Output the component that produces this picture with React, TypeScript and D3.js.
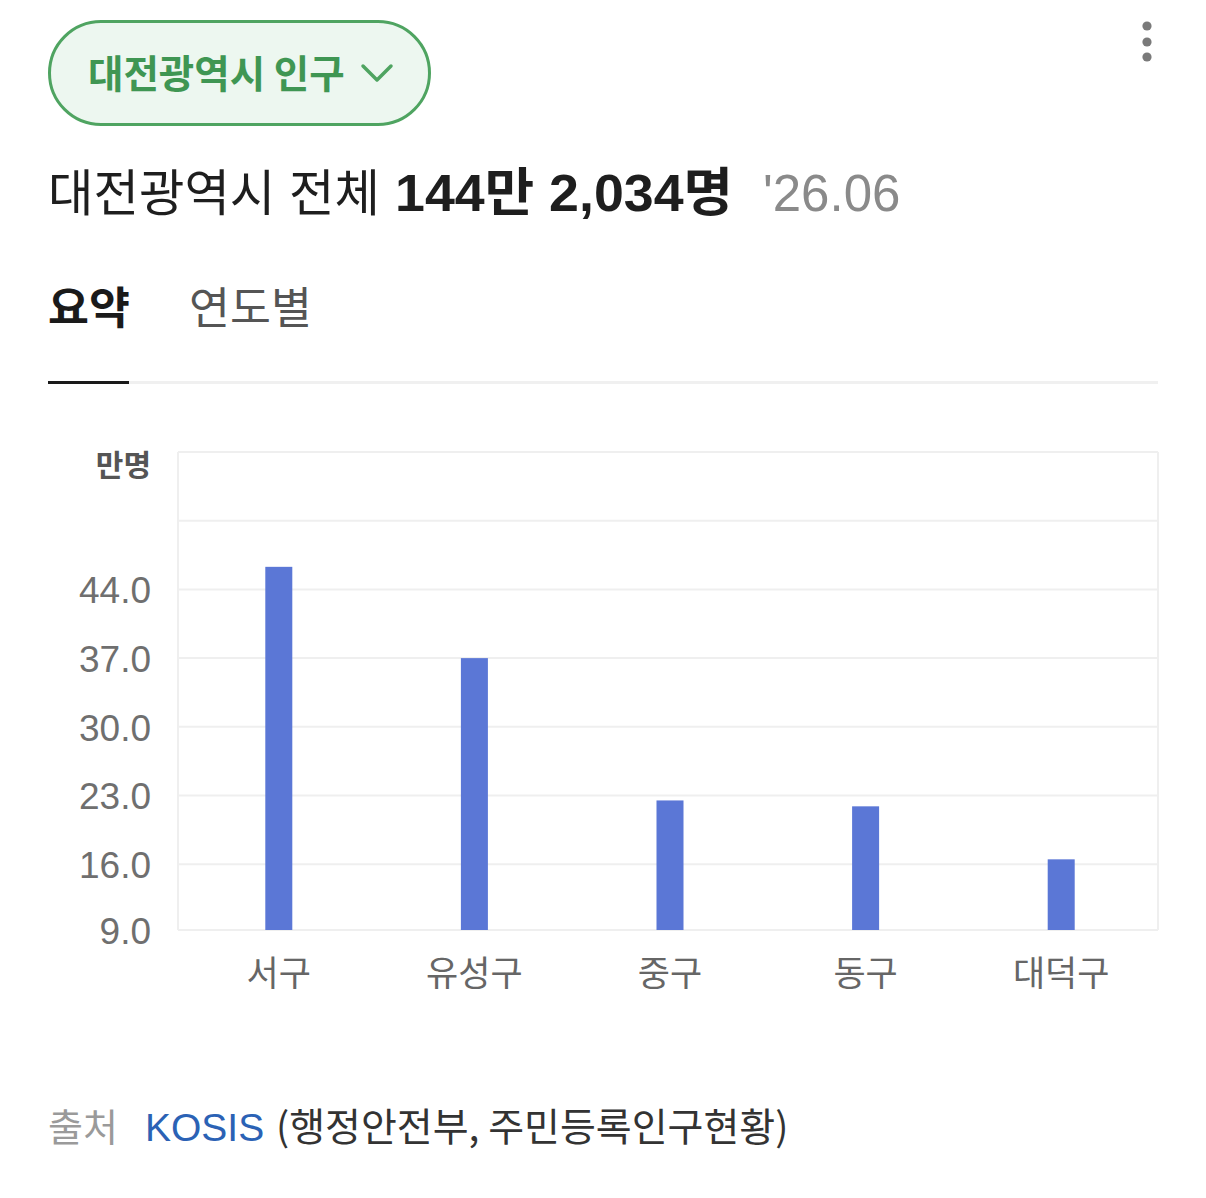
import React from "react";
import * as d3 from "d3";

const categories = ["서구", "유성구", "중구", "동구", "대덕구"];
const values = [46.3, 37.0, 22.5, 21.9, 16.5];
const yTickValues = [9.3, 16, 23, 30, 37, 44, 51, 58];
const yTickLabels = ["9.0", "16.0", "23.0", "30.0", "37.0", "44.0", "", ""];
const yDomain = [9.3, 58];
const unitLabel = "만명";
const pillLabel = "대전광역시 인구";
const titleRegular = "대전광역시 전체";
const titleBold = "144만 2,034명";
const titleDate = "'26.06";
const tabs = ["요약", "연도별"];
const sourceLabel = "출처";
const sourceLink = "KOSIS";
const sourceDetail = "(행정안전부, 주민등록인구현황)";

const FONT = "'Liberation Sans', 'Noto Sans CJK KR', sans-serif";
const KR = "'Noto Sans CJK KR', sans-serif";

export default function App() {
  const W = 1206, H = 1198;
  const plotL = 178, plotR = 1158, plotT = 452, plotB = 930;
  const y = d3.scaleLinear().domain(yDomain).range([plotB, plotT]);
  const x = d3.scaleBand().domain(categories).range([181, 1159]).paddingInner(0).paddingOuter(0);
  const barW = 27;

  return (
    <div style={{ position: "absolute", left: 0, top: 0 }}>
      <svg width={W} height={H} style={{ display: "block", background: "#fff" }} fontFamily={FONT}>
        {/* pill */}
        <rect x={49.5} y={21.5} width={380} height={103} rx={51.5} fill="#edf7f0" stroke="#4fa461" strokeWidth={3} />
        <text x={88} y={88} fontSize={38.5} fontWeight={700} fill="#3f9653" fontFamily={KR}>{pillLabel}</text>
        <path d="M363,66 L377,80 L391,66" fill="none" stroke="#4fa461" strokeWidth={3.5} strokeLinecap="round" strokeLinejoin="round" />

        {/* more dots */}
        {[26, 42, 57].map((cy) => (
          <circle key={cy} cx={1147} cy={cy} r={4.6} fill="#7a7a7a" />
        ))}

        {/* title */}
        <text x={48} y={211} fontSize={50} fill="#1e1e1e" textLength={332} lengthAdjust="spacingAndGlyphs">{titleRegular}</text>
        <text x={395} y={211} fontSize={52} fontWeight={700} fill="#1e1e1e" textLength={338} lengthAdjust="spacingAndGlyphs">{titleBold}</text>
        <text x={763} y={211} fontSize={51} fill="#8a8a8a">{titleDate}</text>

        {/* tabs */}
        <text x={48} y={324} fontSize={44.5} fontWeight={700} fill="#1a1a1a" fontFamily={KR}>{tabs[0]}</text>
        <text x={189} y={324} fontSize={44.5} fill="#555" fontFamily={KR}>{tabs[1]}</text>
        <rect x={48} y={381} width={1110} height={3} fill="#f0f0f0" />
        <rect x={48} y={381} width={81} height={3} fill="#1a1a1a" />

        {/* unit */}
        <text x={151} y={476} fontSize={30} fontWeight={700} fill="#555" textAnchor="end" fontFamily={KR}>{unitLabel}</text>

        {/* grid */}
        {yTickValues.map((v) => (
          <line key={v} x1={plotL} x2={plotR} y1={y(v)} y2={y(v)} stroke="#efefef" strokeWidth={2} />
        ))}
        <line x1={plotL} x2={plotL} y1={plotT} y2={plotB} stroke="#efefef" strokeWidth={2} />
        <line x1={plotR} x2={plotR} y1={plotT} y2={plotB} stroke="#efefef" strokeWidth={2} />

        {/* y labels */}
        {yTickValues.map((v, i) =>
          yTickLabels[i] ? (
            <text key={v} x={151} y={y(v)} dy="0.37em" fontSize={37} fill="#6f6f6f" textAnchor="end">
              {yTickLabels[i]}
            </text>
          ) : null
        )}

        {/* bars */}
        {categories.map((c, i) => {
          const cx = (x(c) as number) + x.bandwidth() / 2;
          return (
            <rect key={c} x={cx - barW / 2} y={y(values[i])} width={barW} height={y(yDomain[0]) - y(values[i])} fill="#5b77d6" />
          );
        })}

        {/* x labels */}
        {categories.map((c) => {
          const cx = (x(c) as number) + x.bandwidth() / 2;
          return (
            <text key={c} x={cx} y={986} fontSize={35} fill="#666" textAnchor="middle" fontFamily={KR}>
              {c}
            </text>
          );
        })}

        {/* source */}
        <text y={1141} fontSize={39}>
          <tspan x={48} fill="#9a9a9a" fontFamily={KR} fontSize={38}>{sourceLabel}</tspan>
          <tspan x={145} fill="#2b62b5">{sourceLink}</tspan>
          <tspan x={276} fill="#333" fontFamily={KR}>{sourceDetail}</tspan>
        </text>
      </svg>
    </div>
  );
}
